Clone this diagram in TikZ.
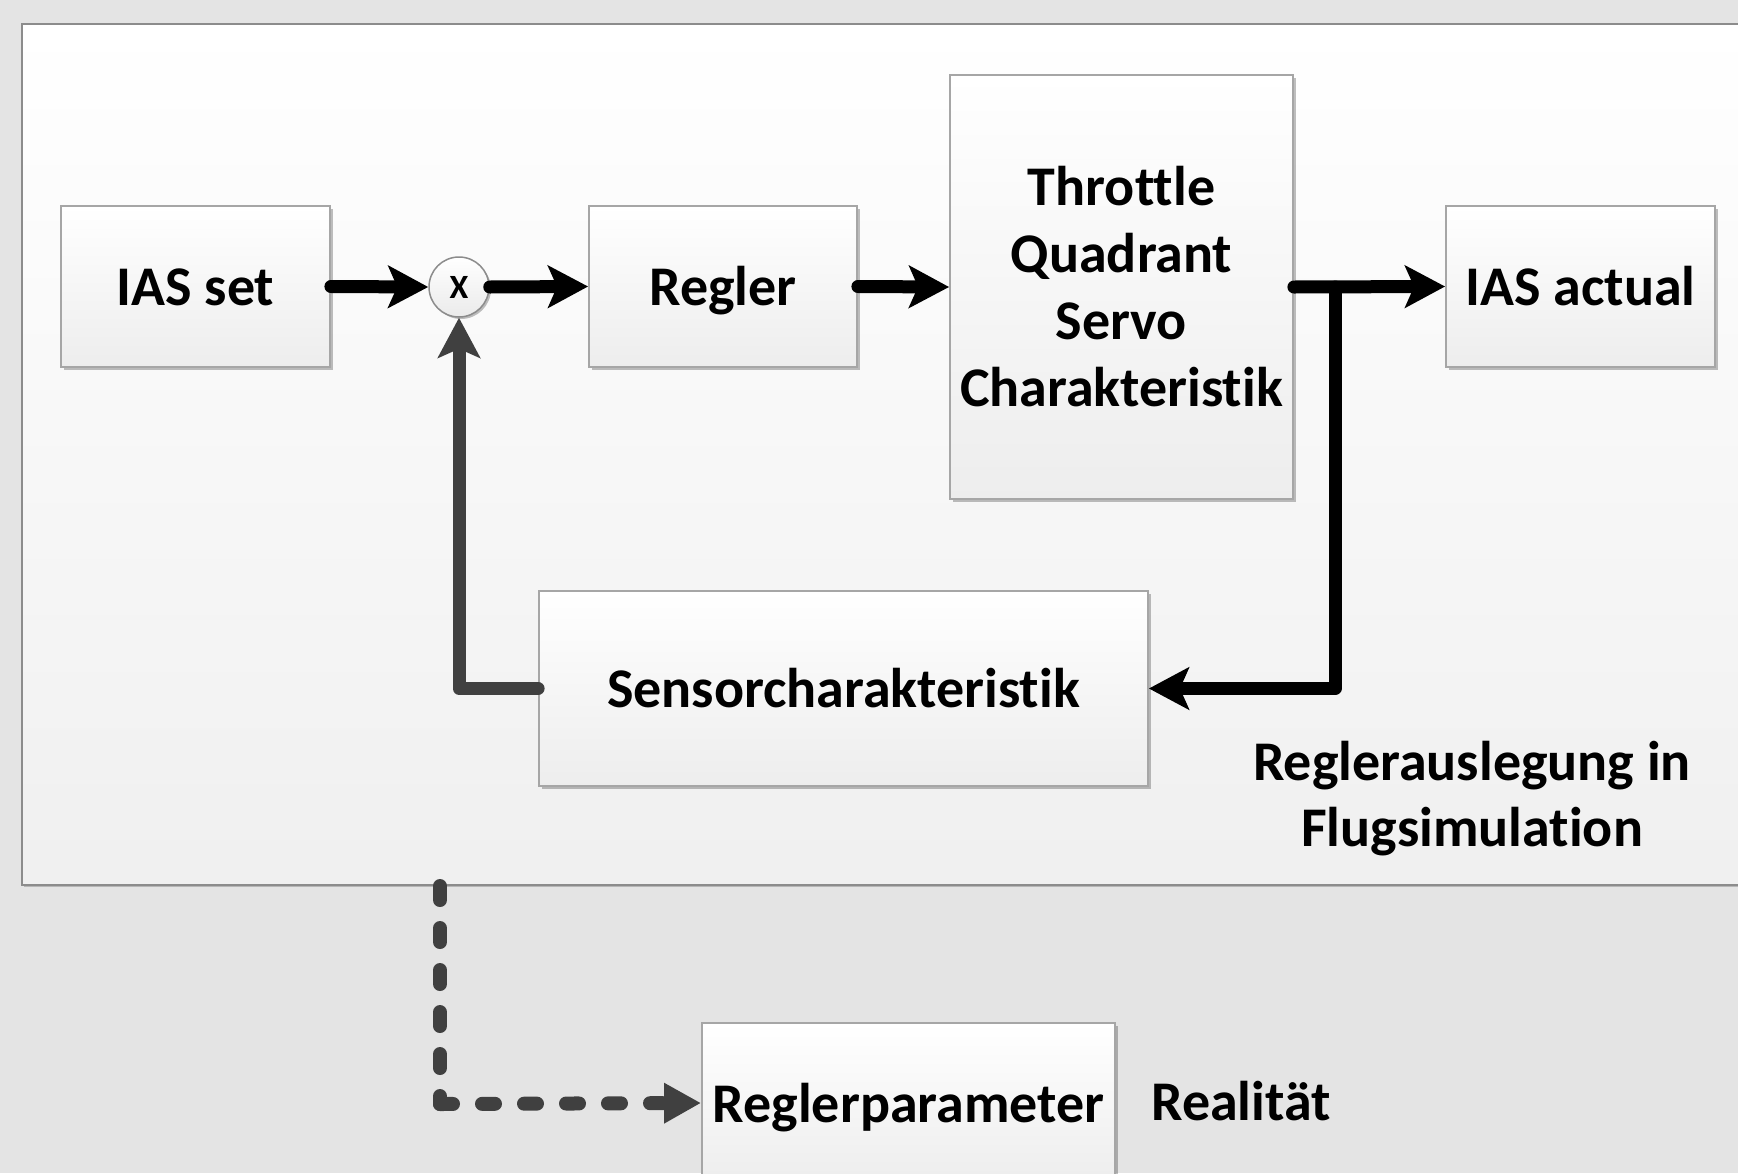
\documentclass[tikz,border=0pt]{standalone}
\usepackage{fontspec}
\setmainfont{Carlito}[Ligatures={NoCommon}]
\usetikzlibrary{arrows.meta,shadows}
\definecolor{bgc}{HTML}{E4E4E4}
\definecolor{dk}{HTML}{404040}
\definecolor{edge}{HTML}{A6A6A6}
\begin{document}
\begin{tikzpicture}[x=1pt,y=-1pt,
  blk/.style={draw=edge, line width=1.8pt, top color=white, bottom color=black!7,
    inner sep=0pt, align=center, font=\fontsize{56}{67}\selectfont\bfseries,
    drop shadow={shadow xshift=2.5pt,shadow yshift=-2.5pt,opacity=0.25,fill=black}},
  oneline/.style={text height=38pt, text depth=0pt},
  lbl/.style={inner sep=0pt, align=center, font=\fontsize{56}{66}\selectfont\bfseries},
  conn/.style={line width=13pt, line cap=round, line join=round,
    -{Stealth[length=40pt,width=42pt,inset=9pt]}},
  dashv/.style={dk, line width=14pt, line cap=round, dash pattern=on 14pt off 28pt},
  dashh/.style={dk, line width=14pt, line cap=round, dash pattern=on 13pt off 29pt,
    -{Triangle[length=37pt,width=38pt]}}
]
\useasboundingbox (0,0) rectangle (1738,1173);
\clip (0,0) rectangle (1738,1173);
\fill[bgc] (0,0) rectangle (1738,1173);
% panel
\path[top color=white, bottom color=black!6, draw=black!45, line width=1.5pt,
  drop shadow={shadow xshift=2pt,shadow yshift=-2pt,opacity=0.2,fill=black}]
  (22,24) rectangle (1780,885);

% blocks
\node[blk, oneline, minimum width=269pt, minimum height=161pt] (ias) at (195.5,286.5) {IAS set};
\node[blk, oneline, minimum width=268pt, minimum height=161pt] (reg) at (723,286.5) {Regler};
\node[blk, minimum width=343pt, minimum height=424pt] (thr) at (1121.5,287)
  {Throttle\\Quadrant\\Servo\\Charakteristik};
\node[blk, oneline, minimum width=269pt, minimum height=161pt] (iasa) at (1580.5,286.5) {IAS actual};
\node[blk, oneline, minimum width=609pt, minimum height=195pt] (sens) at (843.5,688.5) {Sensorcharakteristik};
\node[blk, oneline, minimum width=413pt, minimum height=160pt] (rp) at (908.5,1103) {Reglerparameter};
\node[circle, draw=black!45, line width=1.5pt, top color=white, bottom color=black!8,
  minimum size=60pt, inner sep=0pt, font=\fontsize{34}{34}\selectfont\bfseries,
  drop shadow={shadow xshift=2pt,shadow yshift=-2pt,opacity=0.25,fill=black}]
  (sum) at (459,287) {X};

% labels
\node[lbl] (ausl) at (1472,799) {Reglerauslegung in\\Flugsimulation};
\node[lbl, oneline] (real) at (1241,1101) {Realität};

% connectors
\draw[conn] (ias.east) -- (sum.west);
\draw[conn] (sum.east) -- (reg.west);
\draw[conn] (reg.east) -- (thr.west);
\draw[conn] (thr.east) -- (iasa.west);
\coordinate (br) at (1335,287);
\draw[conn] (br) |- (sens.east);
\draw[conn, dk] (sens.west) -| (sum.south);

% dashed link
\coordinate (d0) at (440,886);
\coordinate (d1) at (440,1104);
\draw[dashv] (d0) -- (d1);
\draw[dashh] (d1) -- (rp.west);
\end{tikzpicture}
\end{document}
